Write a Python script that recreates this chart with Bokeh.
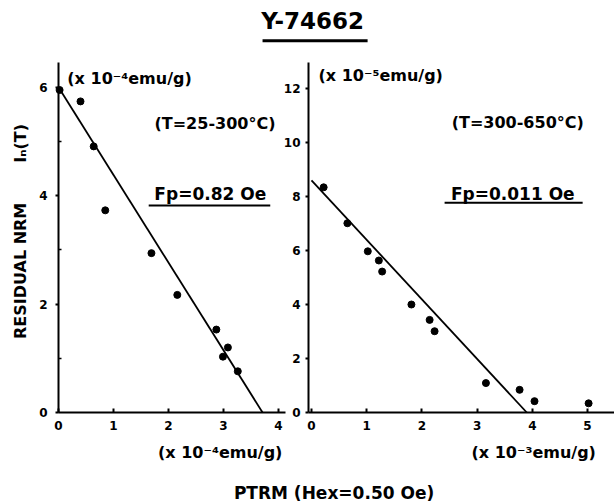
import math
from bokeh.plotting import figure
from bokeh.models import Range1d, LinearAxis, Label, FixedTicker
from bokeh.embed import file_html
from bokeh.resources import INLINE

# ---- data ----
left_x = [0.02, 0.40, 0.64, 0.85, 1.69, 2.16, 2.87, 3.08, 2.99, 3.26]
left_y = [5.95, 5.74, 4.91, 3.73, 2.94, 2.17, 1.53, 1.20, 1.03, 0.76]
left_fit_x = [0.0, 3.71]
left_fit_y = [6.0, 0.0]

right_x = [0.22, 0.65, 1.02, 1.22, 1.28, 1.81, 2.14, 2.23, 3.16, 3.77, 4.04, 5.02]
right_y = [8.34, 7.01, 5.97, 5.63, 5.22, 4.00, 3.43, 3.01, 1.09, 0.84, 0.42, 0.34]
right_fit_x = [0.0, 3.90]
right_fit_y = [8.6, 0.0]

left_xticks = [0, 1, 2, 3, 4]
left_yticks = [0, 2, 4, 6]
left_yminor = [1, 3, 5]
right_xticks = [0, 1, 2, 3, 4, 5]
right_yticks = [0, 2, 4, 6, 8, 10, 12]

FONT = "DejaVu Sans"

# the frame covers the whole canvas; both panels are placed by their own ranges
p = figure(width=614, height=503, output_backend="svg", toolbar_location=None,
           x_range=Range1d(-58 / 55.0, 556 / 55.0),
           y_range=Range1d(-91 / 54.2, 412 / 54.2),
           x_axis_type=None, y_axis_type=None, min_border=0)
p.outline_line_color = None
p.background_fill_color = "white"
p.border_fill_color = "white"
p.extra_x_ranges = {"r": Range1d(-311 / 55.2, 303 / 55.2)}
p.extra_y_ranges = {"r": Range1d(-91 / 27.0, 412 / 27.0)}


def style(ax, size="12px"):
    ax.axis_line_width = 2
    ax.major_tick_line_width = 2
    ax.minor_tick_line_width = 1.5
    ax.major_label_text_font = FONT
    ax.major_label_text_font_style = "bold"
    ax.major_label_text_font_size = size
    ax.major_label_text_color = "black"


# left y axis
ay = LinearAxis(ticker=FixedTicker(ticks=left_yticks, minor_ticks=left_yminor),
                fixed_location=0, bounds=(0, 350 / 54.2))
style(ay)
ay.major_tick_out = 3
ay.major_tick_in = 0
ay.minor_tick_in = 3
ay.minor_tick_out = 0
ay.major_label_standoff = 8
p.add_layout(ay, "left")

# left x axis
ax = LinearAxis(ticker=FixedTicker(ticks=left_xticks, minor_ticks=[]),
                fixed_location=0, bounds=(0, 4.13))
style(ax)
ax.major_tick_in = 4
ax.major_tick_out = 0
ax.major_label_standoff = 8
p.add_layout(ax, "below")

# right y axis
ry = LinearAxis(x_range_name="r", y_range_name="r",
                ticker=FixedTicker(ticks=right_yticks, minor_ticks=[]),
                fixed_location=-0.054, bounds=(0, 350 / 27.0))
style(ry)
ry.major_tick_out = 3
ry.major_tick_in = 0
ry.major_label_standoff = 5
p.add_layout(ry, "left")

# right x axis
rx = LinearAxis(x_range_name="r", y_range_name="r",
                ticker=FixedTicker(ticks=right_xticks, minor_ticks=[]),
                fixed_location=0, bounds=(-0.054, 5.49))
style(rx)
rx.major_tick_in = 4
rx.major_tick_out = 0
rx.major_label_standoff = 8
p.add_layout(rx, "below")

# data
p.line(left_fit_x, left_fit_y, line_color="black", line_width=1.8)
p.scatter(left_x, left_y, size=7, color="black")
p.line(right_fit_x, right_fit_y, line_color="black", line_width=1.8,
       x_range_name="r", y_range_name="r")
p.scatter(right_x, right_y, size=7, color="black", x_range_name="r", y_range_name="r")


def lab(x, y, text, size="16px", align="center", angle=0.0):
    p.add_layout(Label(x=x, y=y, text=text, text_font=FONT, text_font_style="bold",
                       text_font_size=size, text_align=align, text_baseline="middle",
                       text_color="black", angle=angle))


lab(4.62, 7.23, "Y-74662", size="23px")
lab(0.16, 6.16, "(x 10\u207b\u2074emu/g)", align="left")
lab(2.845, 5.33, "(T=25-300\u00b0C)")
lab(2.76, 4.04, "Fp=0.82 Oe", size="17px")
lab(4.727, 6.22, "(x 10\u207b\u2075emu/g)", align="left")
lab(8.35, 5.35, "(T=300-650\u00b0C)")
lab(8.26, 4.04, "Fp=0.011 Oe", size="17px")
lab(2.94, -0.74, "(x 10\u207b\u2074emu/g)")
lab(8.64, -0.74, "(x 10\u207b\u00b3emu/g)")
lab(5.01, -1.49, "PTRM (Hex=0.50 Oe)", size="17px")
lab(-0.69, 3.34, "RESIDUAL NRM\u2003\u2003\u2002I\u2099(T)", angle=math.pi / 2)

# underlines of the title and the Fp annotations
p.segment(x0=[3.71], y0=[6.86], x1=[5.62], y1=[6.86], line_color="black", line_width=3)
p.segment(x0=[1.64, 7.02], y0=[3.82, 3.87], x1=[3.85, 9.53], y1=[3.82, 3.87],
          line_color="black", line_width=2)

open("out.html", "w").write(file_html(p, INLINE))
